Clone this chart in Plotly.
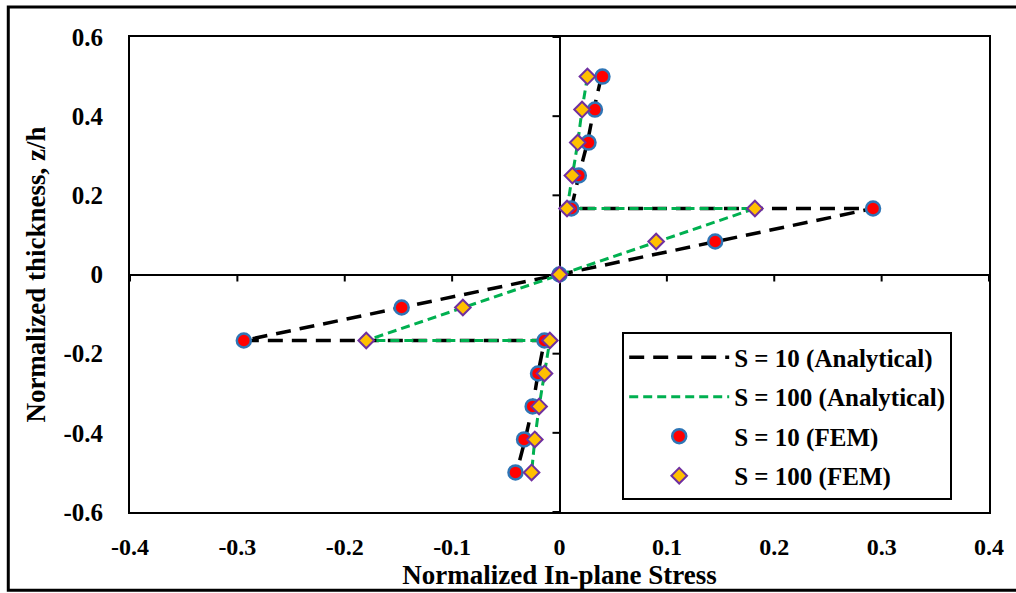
import plotly.graph_objects as go

# Data
z_fem = [0.5, 0.4167, 0.3333, 0.25, 0.1667, 0.1667, 0.0833, 0.0,
         -0.0833, -0.1667, -0.1667, -0.25, -0.3333, -0.4167, -0.5]
s10_fem = [0.040, 0.033, 0.027, 0.018, 0.011, 0.292, 0.145, 0.0,
           -0.147, -0.294, -0.014, -0.020, -0.025, -0.033, -0.041]
s100_fem = [0.026, 0.021, 0.017, 0.012, 0.007, 0.182, 0.090, 0.0,
            -0.090, -0.180, -0.009, -0.014, -0.019, -0.023, -0.026]

z_an = [0.5, 0.4167, 0.3333, 0.25, 0.1667, 0.1667, 0.0, -0.1667, -0.1667,
        -0.25, -0.3333, -0.4167, -0.5]
s10_an = [0.039, 0.032, 0.026, 0.018, 0.011, 0.292, 0.0, -0.294, -0.014,
          -0.020, -0.025, -0.032, -0.040]
s100_an = [0.026, 0.021, 0.017, 0.012, 0.007, 0.182, 0.0, -0.180, -0.009,
           -0.014, -0.019, -0.023, -0.026]

x_ticks = [-0.4, -0.3, -0.2, -0.1, 0, 0.1, 0.2, 0.3, 0.4]
x_tick_text = ["-0.4", "-0.3", "-0.2", "-0.1", "0", "0.1", "0.2", "0.3", "0.4"]
y_ticks = [-0.6, -0.4, -0.2, 0, 0.2, 0.4, 0.6]
y_tick_text = ["-0.6", "-0.4", "-0.2", "0", "0.2", "0.4", "0.6"]

FONT = "Liberation Serif"

fig = go.Figure()
fig.add_trace(go.Scatter(x=s10_an, y=z_an, mode="lines", name="S = 10 (Analytical)",
                         legendgroup="a",
                         line=dict(color="black", width=3.5, dash="15px,9px")))
fig.add_trace(go.Scatter(x=s100_an, y=z_an, mode="lines", name="S = 100 (Analytical)",
                         legendgroup="b",
                         line=dict(color="#00B050", width=3, dash="9px,5px")))
fig.add_trace(go.Scatter(x=s10_fem, y=z_fem, mode="markers", name="S = 10 (FEM)",
                         legendgroup="c",
                         marker=dict(symbol="circle", size=14, color="#FF0000",
                                     line=dict(color="#2E75B6", width=2.5))))
fig.add_trace(go.Scatter(x=s100_fem, y=z_fem, mode="markers", name="S = 100 (FEM)",
                         legendgroup="d",
                         marker=dict(symbol="diamond", size=12, color="#FFC000",
                                     line=dict(color="#7030A0", width=2))))

shapes = []
# tick marks on the zero lines
for v in x_ticks:
    if v == 0:
        continue
    shapes.append(dict(type="line", xref="x", yref="y", ysizemode="pixel", yanchor=0,
                       x0=v, x1=v, y0=0, y1=-7, line=dict(color="black", width=2)))
for v in y_ticks:
    if v == 0:
        continue
    shapes.append(dict(type="line", xref="x", yref="y", xsizemode="pixel", xanchor=0,
                       y0=v, y1=v, x0=0, x1=-7, line=dict(color="black", width=2)))
# outer frame of the image
shapes.append(dict(type="path", xref="paper", yref="paper",
                   path="M 1.05,1.0633 L -0.1417,1.0633 L -0.1417,-0.1646 L 1.05,-0.1646",
                   line=dict(color="black", width=3)))

fig.update_layout(
    width=1016, height=593,
    margin=dict(l=130, r=25, t=37, b=81),
    paper_bgcolor="white", plot_bgcolor="white",
    font=dict(family=FONT, color="black", size=24, weight="bold"),
    showlegend=True,
    legend=dict(x=0.573, y=0.378, xanchor="left", yanchor="top",
                bgcolor="white", bordercolor="black", borderwidth=2,
                font=dict(family=FONT, size=25, weight="bold"),
                tracegroupgap=4, itemwidth=100),
    shapes=shapes,
    xaxis=dict(range=[-0.4, 0.4], tickvals=x_ticks, ticktext=x_tick_text,
               showgrid=False, zeroline=True, zerolinecolor="black", zerolinewidth=2,
               showline=True, linecolor="black", linewidth=2, mirror=True,
               ticks="", ticklabelstandoff=12,
               tickfont=dict(family=FONT, size=24, weight="bold"),
               title=dict(text="Normalized In-plane Stress", standoff=0,
                          font=dict(family=FONT, size=27, weight="bold"))),
    yaxis=dict(range=[-0.6, 0.6], tickvals=y_ticks, ticktext=y_tick_text,
               showgrid=False, zeroline=True, zerolinecolor="black", zerolinewidth=2,
               showline=True, linecolor="black", linewidth=2, mirror=True,
               ticks="", ticklabelstandoff=20,
               tickfont=dict(family=FONT, size=25, weight="bold"),
               title=dict(text="Normalized thickness, z/h", standoff=10,
                          font=dict(family=FONT, size=27, weight="bold"))),
)

fig.write_html("out.html")
